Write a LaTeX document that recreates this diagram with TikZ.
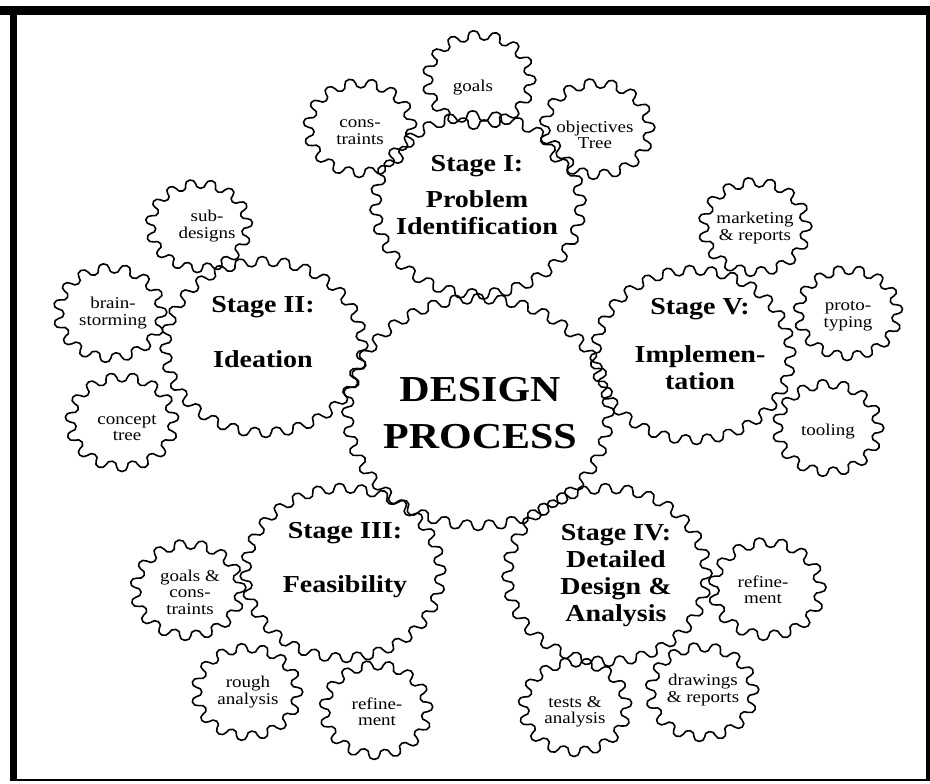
\documentclass[tikz,border=0pt]{standalone}
\usepackage{fontspec}
\setmainfont{Liberation Serif}
\begin{document}
\begin{tikzpicture}[
   x=1pt,y=1pt,
   gear/.style={line width=1.6pt,line join=round},
   frame/.style={line width=7pt},
   mainlabel/.style={yscale=0.87,align=center,font=\fontsize{42}{54}\selectfont\bfseries},
   stagelabel/.style={yscale=0.87,align=center,font=\fontsize{28}{31}\selectfont\bfseries},
   smalllabel/.style={yscale=0.87,align=center,inner sep=0pt,font=\fontsize{19}{19}\selectfont}
 ]
  \useasboundingbox (0,0) rectangle (930,784);
  % border
  \draw[frame,line width=9pt] (0,773.5) -- (930,773.5);
  \draw[frame] (13.5,778) -- (13.5,3);
  \draw[frame,line width=4pt] (928,778) -- (928,3);
  \draw[frame,line width=2pt] (10,4) -- (930,4);

  % gears: x/y of centre, tip radius, teeth, turn
  \begin{scope}[yscale=0.87]
  \foreach \cx/\cy/\rad/\n/\ph in {
      478/372/136/36/0,
      478/579/108/28/3,  479/704/57/15/0,  360/656/57/15/5,  597/655/58/15/2,
      264/437/104/28/1,  199/558/54/15/4,  110/471/57/15/1,  122/362/57/15/6,
      343/211/103/28/2,  188/194/58/15/3,  247/92/56/15/0,   376/74/57/15/4,
      607/209/105/28/1,  767/195/59/15/2,  575/77/57/15/5,   702/92/57/15/3,
      693/429/103/28/2,  755/557/57/15/1,  848/471/55/15/5,  828/356/56/15/0} {
    \pgfmathsetmacro\dl{90/\n}
    \pgfmathsetmacro\rr{(\rad-5.5)/cos(\dl)}
    \pgfmathsetmacro\rho{\rr*sin(\dl)}
    \pgfmathsetmacro\last{2*\n-1}
    \draw[gear] ({\cx+\rr*cos(\ph-\dl)},{\cy/0.87+\rr*sin(\ph-\dl)})
      \foreach \k in {0,...,\last} {
        arc[start angle={\ph+2*\dl*\k-90},delta angle={180-360*mod(\k,2)},radius=\rho]
      } -- cycle;
  }
  \end{scope}

  \node[mainlabel] (design) at (480,371) {DESIGN\\PROCESS};

  \node[stagelabel] (stageI) at (477,589) {Stage I:\\[11pt]Problem\\Identification};
  \node[smalllabel] (goals) at (473,696) {goals};
  \node[smalllabel] (constraints) at (360,652) {cons-\\traints};
  \node[smalllabel] (objectives) at (595,649) {objectives\\Tree};

  \node[stagelabel] (stageII) at (263,452) {Stage II:\\[32pt]Ideation};
  \node[smalllabel] (subdesigns) at (207,558) {sub-\\designs};
  \node[smalllabel] (brainstorm) at (113,471) {brain-\\storming};
  \node[smalllabel] (concept) at (127,356) {concept\\tree};

  \node[stagelabel] (stageIII) at (345,224) {Stage III:\\[32pt]Feasibility};
  \node[smalllabel] (goalscons) at (190,192) {goals \&\\cons-\\traints};
  \node[smalllabel] (rough) at (248,92) {rough\\analysis};
  \node[smalllabel] (refineIII) at (377,72) {refine-\\ment};

  \node[stagelabel] (stageIV) at (616,208) {Stage IV:\\Detailed\\Design \&\\Analysis};
  \node[smalllabel] (refineIV) at (763,194) {refine-\\ment};
  \node[smalllabel] (tests) at (575,72) {tests \&\\analysis};
  \node[smalllabel] (drawings) at (703,94) {drawings\\\& reports};

  \node[stagelabel] (stageV) at (700,440) {Stage V:\\[24pt]Implemen-\\tation};
  \node[smalllabel] (marketing) at (755,556) {marketing\\\& reports};
  \node[smalllabel] (proto) at (848,468) {proto-\\typing};
  \node[smalllabel] (tooling) at (828,352) {tooling};
\end{tikzpicture}
\end{document}
